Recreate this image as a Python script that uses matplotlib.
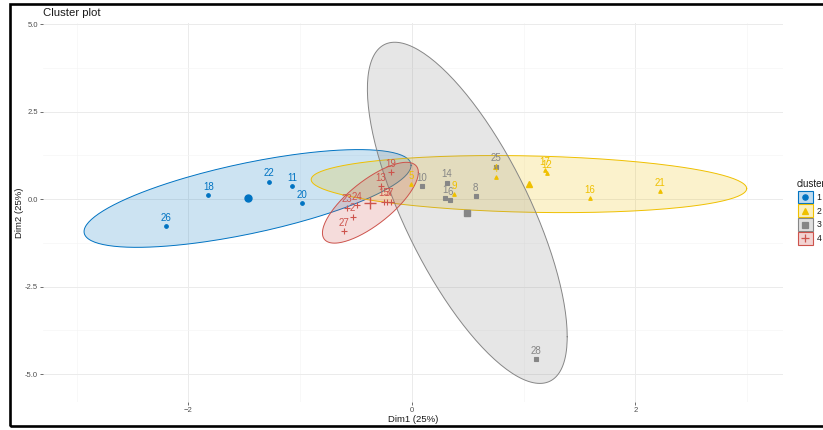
import numpy as np
import matplotlib
matplotlib.use("Agg")
import matplotlib.pyplot as plt
from matplotlib.patches import Rectangle
from matplotlib.lines import Line2D

plt.rcParams["font.family"] = ["Liberation Sans", "DejaVu Sans"]

# individuals projected on the first two dimensions
names = [str(i) for i in range(1, 29)]
dim1 = [0.30, -0.53, -0.22, 0.75, -0.01, 0.34, -0.19, 0.57, 0.38, 0.09,
        -1.07, 1.21, -0.28, 0.31, -0.25, 1.59, 1.19, -1.82, -0.19, -0.98,
        2.22, -1.28, -0.58, -0.49, 0.75, -2.20, -0.61, 1.11]
dim2 = [0.02, -0.50, -0.08, 0.63, 0.43, -0.03, -0.08, 0.08, 0.13, 0.37,
        0.37, 0.74, 0.37, 0.46, -0.08, 0.02, 0.82, 0.11, 0.76, -0.12,
        0.22, 0.49, -0.25, -0.17, 0.92, -0.77, -0.92, -4.58]
cluster = [3, 4, 4, 2, 2, 3, 4, 3, 2, 3,
           1, 2, 4, 3, 4, 2, 2, 1, 4, 1,
           2, 1, 4, 4, 3, 1, 4, 3]

cluster_ids = [1, 2, 3, 4]
palette = {1: "#0073C2", 2: "#EFC000", 3: "#868686", 4: "#CD534C"}
markers = {1: "o", 2: "^", 3: "s", 4: "+"}

# ellipse radius (in standard deviations) for each group
radius = {1: 2.8, 2: 2.6, 3: 2.6, 4: 2.42}

x = np.array(dim1)
y = np.array(dim2)
cl = np.array(cluster)

W, H = 823, 430
fig = plt.figure(figsize=(W / 100, H / 100), dpi=100)
ax = fig.add_axes([43 / W, 1 - 402 / H, (783 - 43) / W, (402 - 23) / H])

# concentration ellipses
t = np.linspace(0, 2 * np.pi, 200)
circle = np.vstack([np.cos(t), np.sin(t)])
for c in cluster_ids:
    m = cl == c
    pts = np.vstack([x[m], y[m]])
    center = pts.mean(axis=1)
    L = np.linalg.cholesky(np.cov(pts))
    ell = center[:, None] + radius[c] * (L @ circle)
    ax.fill(ell[0], ell[1], facecolor=palette[c], alpha=0.2, zorder=2)
    ax.plot(ell[0], ell[1], color=palette[c], lw=0.7, zorder=2)

# points, labels and centroids
for c in cluster_ids:
    m = cl == c
    col = palette[c]
    ms = 5 if c == 4 else 2.6
    ax.plot(x[m], y[m], ls="", marker=markers[c], color=col, ms=ms,
            mew=0.8, zorder=4)
    ax.plot(x[m].mean(), y[m].mean(), ls="", marker=markers[c], color=col,
            ms=(8 if c == 4 else 5), mew=1.0, zorder=4)
    for xi, yi, lab in zip(x[m], y[m], np.array(names)[m]):
        ax.annotate(lab, (xi, yi), xytext=(0, 2.5), textcoords="offset points",
                    ha="center", va="bottom", fontsize=7, color=col, zorder=5)

ax.set_xlim(-3.30, 3.32)
ax.set_ylim(-5.80, 5.03)
ax.set_xticks([-2, 0, 2])
ax.set_xticks([-3, -1, 1, 3], minor=True)
ax.set_yticks([-5, -2.5, 0, 2.5, 5])
ax.set_yticks([-3.75, -1.25, 1.25, 3.75], minor=True)
ax.set_yticklabels(["-5.0", "-2.5", "0.0", "2.5", "5.0"])
ax.grid(which="major", color="#ebebeb", lw=0.7)
ax.grid(which="minor", color="#f5f5f5", lw=0.5)
ax.set_axisbelow(True)
for s in ax.spines.values():
    s.set_visible(False)
ax.tick_params(which="major", length=2, width=0.5, color="#333333",
               labelsize=5.5, labelcolor="#4d4d4d", pad=1.5)
ax.tick_params(which="minor", length=0)

ax.set_xlabel("Dim1 (25%)", fontsize=6.8, color="#1a1a1a", labelpad=0.5)
ax.set_ylabel("Dim2 (25%)", fontsize=6.8, color="#1a1a1a", labelpad=0.5)
fig.text(43 / W, 1 - 13 / H, "Cluster plot", fontsize=8.2,
         color="#1a1a1a", ha="left", va="center")

# legend drawn by hand: tinted key box with the group symbol on top
fig.text(797 / W, 1 - 184 / H, "cluster", fontsize=7, color="#1a1a1a",
         ha="left", va="center")
for i, c in enumerate(cluster_ids):
    top = 190.7 + i * 13.8
    fig.add_artist(Rectangle((797.5 / W, 1 - (top + 12.5) / H), 15 / W, 12.5 / H,
                             transform=fig.transFigure, facecolor=palette[c],
                             alpha=0.25, edgecolor="none"))
    fig.add_artist(Rectangle((797.5 / W, 1 - (top + 12.5) / H), 15 / W, 12.5 / H,
                             transform=fig.transFigure, fill=False,
                             edgecolor=palette[c], lw=0.8))
    fig.add_artist(Line2D([805 / W], [1 - (top + 6.25) / H],
                          transform=fig.transFigure, ls="",
                          marker=markers[c], color=palette[c],
                          ms=(5.5 if c == 4 else 3.8), mew=0.9))
    fig.text(816.5 / W, 1 - (top + 6.5) / H, str(c), fontsize=6.3,
             color="#1a1a1a", ha="left", va="center")

# black frame around the figure
fig.add_artist(Rectangle((10 / W, 4 / H), 830 / W, 422.5 / H,
                         transform=fig.transFigure, fill=False,
                         edgecolor="black", lw=1.9, clip_on=False))

fig.savefig("out.png", dpi=100)
plt.close(fig)
